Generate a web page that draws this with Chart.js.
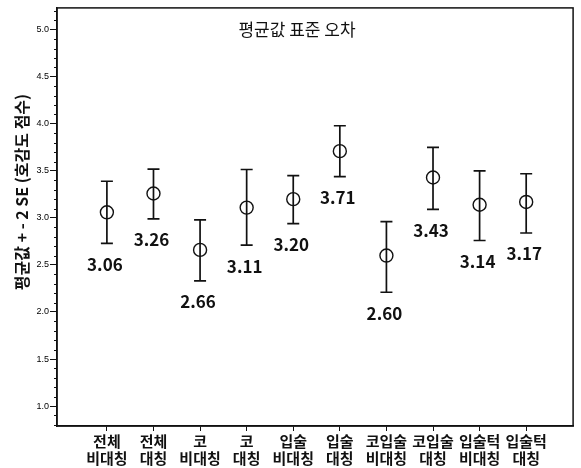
<!DOCTYPE html>
<html>
<head>
<meta charset="utf-8">
<script src="https://cdn.jsdelivr.net/npm/chart.js@4.4.0/dist/chart.umd.min.js"></script>
<style>
  html, body { margin: 0; padding: 0; background: #fff; }
  #wrap { width: 581px; height: 468px; }
</style>
</head>
<body>
<div id="wrap"><canvas id="c" width="581" height="468"></canvas></div>
<script>
const categories = [
  ['전체', '비대칭'], ['전체', '대칭'], ['코', '비대칭'], ['코', '대칭'],
  ['입술', '비대칭'], ['입술', '대칭'], ['코입술', '비대칭'], ['코입술', '대칭'],
  ['입술턱', '비대칭'], ['입술턱', '대칭']
];
const means  = [3.06, 3.26, 2.66, 3.11, 3.20, 3.71, 2.60, 3.43, 3.14, 3.17];
const uppers = [3.39, 3.52, 2.98, 3.515, 3.45, 3.98, 2.96, 3.75, 3.50, 3.47];
const lowers = [2.73, 2.99, 2.33, 2.71, 2.94, 3.44, 2.21, 3.09, 2.76, 2.84];
const yTicks = [1.0, 1.5, 2.0, 2.5, 3.0, 3.5, 4.0, 4.5, 5.0];
const chartTitle = '평균값 표준 오차';
const yTitle = '평균값 + - 2 SE (호감도 점수)';

const INK = '#111';
const KFONT = '"Noto Sans CJK KR", "Noto Sans", sans-serif';

const decorPlugin = {
  id: 'decor',
  beforeDatasetsDraw(chart) {
    const ctx = chart.ctx, xs = chart.scales.x, ys = chart.scales.y;
    ctx.save();
    ctx.strokeStyle = INK;
    ctx.lineWidth = 1.7;
    means.forEach((m, i) => {
      const px = xs.getPixelForValue(i);
      const pu = ys.getPixelForValue(uppers[i]);
      const pl = ys.getPixelForValue(lowers[i]);
      ctx.beginPath();
      ctx.moveTo(px, pu); ctx.lineTo(px, pl);
      ctx.moveTo(px - 6, pu); ctx.lineTo(px + 6, pu);
      ctx.moveTo(px - 6, pl); ctx.lineTo(px + 6, pl);
      ctx.stroke();
    });
    ctx.restore();
  },
  afterDraw(chart) {
    const ctx = chart.ctx, xs = chart.scales.x, ys = chart.scales.y, a = chart.chartArea;
    ctx.save();
    // frame
    ctx.strokeStyle = INK;
    ctx.lineWidth = 1.5;
    ctx.strokeRect(a.left, a.top, a.right - a.left, a.bottom - a.top);
    // minor ticks on y axis
    ctx.lineWidth = 1;
    for (let k = 8; k <= 52; k++) {
      if (k % 5 === 0) continue;
      const v = k / 10;
      if (v < ys.min || v > ys.max) continue;
      const py = Math.round(ys.getPixelForValue(v)) + 0.5;
      ctx.beginPath();
      ctx.moveTo(a.left - 3, py); ctx.lineTo(a.left, py);
      ctx.stroke();
    }
    // value labels
    ctx.fillStyle = INK;
    ctx.font = 'bold 17px ' + KFONT;
    ctx.textAlign = 'center';
    ctx.textBaseline = 'middle';
    means.forEach((m, i) => {
      const px = xs.getPixelForValue(i);
      const pl = ys.getPixelForValue(lowers[i]);
      ctx.fillText(m.toFixed(2), px - 2, pl + 21);
    });
    // chart title inside plot
    ctx.font = '17px ' + KFONT;
    ctx.fillText(chartTitle, 297, 30);
    // y-axis title
    ctx.translate(22, 192);
    ctx.rotate(-Math.PI / 2);
    ctx.font = 'bold 16px ' + KFONT;
    ctx.fillText(yTitle, 0, 0);
    ctx.restore();
  }
};

new Chart(document.getElementById('c'), {
  type: 'scatter',
  data: {
    datasets: [{
      data: means.map((m, i) => ({ x: i, y: m })),
      pointStyle: 'circle',
      pointRadius: 6.5,
      pointBorderWidth: 1.4,
      pointBorderColor: INK,
      pointBackgroundColor: 'rgba(0,0,0,0)'
    }]
  },
  options: {
    responsive: false,
    animation: false,
    layout: { padding: { top: 7, right: 7, left: 0, bottom: 0 } },
    plugins: { legend: { display: false }, tooltip: { enabled: false } },
    scales: {
      x: {
        type: 'linear',
        min: -1.071,
        max: 10.007,
        afterBuildTicks: s => { s.ticks = categories.map((c, i) => ({ value: i })); },
        afterFit: s => { s.height = 42; },
        ticks: {
          autoSkip: false,
          maxRotation: 0,
          padding: 2,
          color: INK,
          font: { family: KFONT, size: 15, weight: 'bold', lineHeight: 1.12 },
          callback: v => categories[v]
        },
        grid: { drawOnChartArea: false, tickLength: 5, color: INK, tickWidth: 1 },
        border: { color: INK, width: 1.5 }
      },
      y: {
        min: 0.788,
        max: 5.233,
        afterBuildTicks: s => { s.ticks = yTicks.map(v => ({ value: v })); },
        afterFit: s => { s.width = 57; },
        ticks: {
          padding: 1,
          color: '#000',
          font: { family: '"Liberation Sans", Arial, sans-serif', size: 9 },
          callback: v => Number(v).toFixed(1)
        },
        grid: { drawOnChartArea: false, tickLength: 7, color: INK, tickWidth: 1 },
        border: { color: INK, width: 1.5 }
      }
    }
  },
  plugins: [decorPlugin]
});
</script>
</body>
</html>
